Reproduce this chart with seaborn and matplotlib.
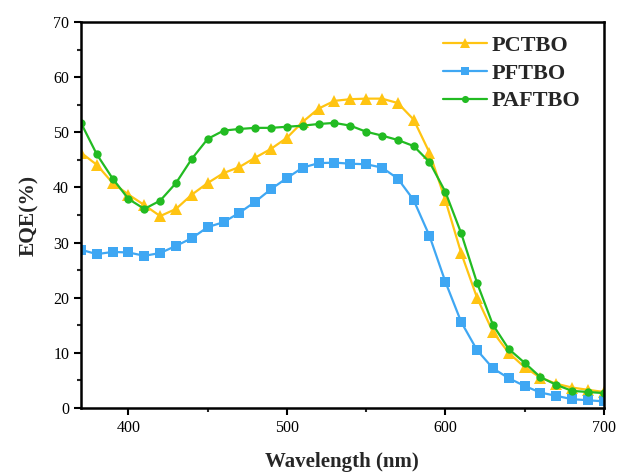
import numpy as np
import pandas as pd
import seaborn as sns
import matplotlib
matplotlib.use("Agg")
import matplotlib.pyplot as plt
from matplotlib.ticker import MultipleLocator

wavelength = list(range(370, 701, 10))
pctbo = [46.3, 44.1, 40.8, 38.7, 36.8, 34.8, 36.1, 38.7, 40.8, 42.6, 43.7, 45.4, 47.0, 49.0, 51.9,
         54.3, 55.7, 56.0, 56.1, 56.1, 55.3, 52.3, 46.3, 37.7, 28.1, 20.0, 13.8, 10.0, 7.4, 5.5,
         4.4, 3.7, 3.3, 2.9]
pftbo = [28.7, 27.9, 28.3, 28.2, 27.6, 28.1, 29.4, 30.8, 32.8, 33.7, 35.4, 37.4, 39.7, 41.7, 43.6,
         44.4, 44.5, 44.3, 44.2, 43.6, 41.6, 37.7, 31.2, 22.9, 15.6, 10.5, 7.2, 5.4, 4.0, 2.8,
         2.2, 1.6, 1.4, 1.2]
paftbo = [51.7, 46.0, 41.6, 37.9, 36.1, 37.6, 40.8, 45.2, 48.8, 50.3, 50.6, 50.8, 50.8, 51.0, 51.2,
          51.5, 51.7, 51.2, 50.1, 49.4, 48.6, 47.5, 44.6, 39.2, 31.7, 22.7, 15.1, 10.7, 8.2, 5.6,
          4.2, 3.1, 2.9, 2.7]
series = ["PCTBO", "PFTBO", "PAFTBO"]
colors = ["#FFC412", "#3FA7F3", "#22BB22"]
markers = ["^", "s", "o"]
msizes = [8, 7, 6]

sns.set_style("ticks")
plt.rcParams['font.family'] = ['Liberation Serif', 'DejaVu Serif']

fig = plt.figure(figsize=(6.2, 4.76), dpi=100)
ax = fig.add_axes([0.1306, 0.1429, 0.8432, 0.8109])
for name, vals, c, m, ms in zip(series, [pctbo, pftbo, paftbo], colors, markers, msizes):
    d = pd.DataFrame({"Wavelength": wavelength, "EQE": vals})
    sns.lineplot(data=d, x="Wavelength", y="EQE", color=c, marker=m, markersize=ms,
                 markeredgewidth=0, linewidth=1.6, label=name, ax=ax)

ax.set_xlim(370, 700)
ax.set_ylim(0, 70)
ax.xaxis.set_major_locator(MultipleLocator(100))
ax.xaxis.set_minor_locator(MultipleLocator(50))
ax.yaxis.set_major_locator(MultipleLocator(10))
ax.yaxis.set_minor_locator(MultipleLocator(5))
ax.tick_params(which="major", direction="out", length=5, width=1.5, labelsize=11.5, colors="black")
ax.tick_params(which="minor", direction="out", length=3, width=1.5)
for s in ax.spines.values():
    s.set_visible(True)
    s.set_linewidth(1.8)
    s.set_color("black")
ax.set_xlabel("Wavelength (nm)", fontsize=15, fontweight="bold", labelpad=12)
ax.set_ylabel("EQE(%)", fontsize=15.5, fontweight="bold", labelpad=10)

leg = ax.legend(loc="upper left", frameon=False, prop={"weight": "bold", "size": 16},
                handlelength=2.0, handletextpad=0.2, labelspacing=0.33,
                borderpad=0, borderaxespad=0, markerscale=0.85,
                bbox_to_anchor=(0.692, 0.966))

fig.savefig("out.png", dpi=100)
